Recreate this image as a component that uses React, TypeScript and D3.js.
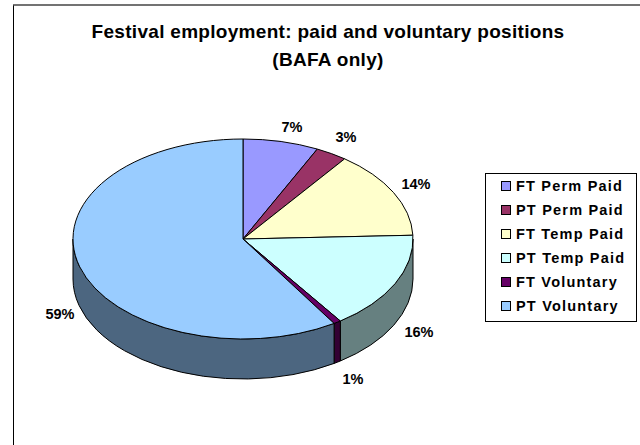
import * as d3 from 'd3';

const titleLines = ['Festival employment: paid and voluntary positions', '(BAFA only)'];
const categories = ['FT Perm Paid', 'PT Perm Paid', 'FT Temp Paid', 'PT Temp Paid', 'FT Voluntary', 'PT Voluntary'];
const values = [7.2, 3.0, 14.2, 15.9, 0.7, 59.0];
const topColors = ['#9999ff', '#993366', '#ffffcc', '#ccffff', '#660066', '#99ccff'];
const sideColors = ['#4c4c80', '#4c1933', '#808066', '#668080', '#330033', '#4c6680'];
const labelPos: [number, number][] = [[292, 132], [346, 142], [416, 189], [419, 337], [353, 384], [60, 319]];

const width = 640;
const height = 445;
const cx = 243;
const cy = 239;
const rx = 170;
const ry = 100;
const depth = 40;

const font = '"Liberation Sans", Arial, sans-serif';

const px = (a: number) => cx + rx * Math.sin(a);
const py = (a: number) => cy - ry * Math.cos(a);

export default function App() {
  const slices = d3.pie<number>().sort(null)(values);
  const arc = d3.arc<d3.PieArcDatum<number>>().innerRadius(0).outerRadius(rx);

  // only the part of the rim facing us (right side round to left side) is visible
  const sidePath = (s: d3.PieArcDatum<number>) => {
    const a0 = Math.max(s.startAngle, Math.PI / 2);
    const a1 = Math.min(s.endAngle, (3 * Math.PI) / 2);
    if (a1 <= a0) return null;
    const large = a1 - a0 > Math.PI ? 1 : 0;
    return `M${px(a0)},${py(a0)}A${rx},${ry} 0 ${large} 1 ${px(a1)},${py(a1)}` +
      `L${px(a1)},${py(a1) + depth}A${rx},${ry} 0 ${large} 0 ${px(a0)},${py(a0) + depth}Z`;
  };

  return (
    <svg width={width} height={height} style={{ position: 'absolute', left: 0, top: 0, background: '#fff' }}>
      <path d={`M13.5,${height}V5`} fill="none" stroke="#000" strokeWidth={1} />
      <path d={`M13,5H${width}`} fill="none" stroke="#444" strokeWidth={1.6} />
      {titleLines.map((t, i) => (
        <text key={t} x={328} y={38 + i * 28} textAnchor="middle" fontFamily={font} fontWeight="bold" fontSize={19} letterSpacing={0.3} fill="#000">{t}</text>
      ))}
      {slices.map((s, i) => {
        const d = sidePath(s);
        return d ? <path key={i} d={d} fill={sideColors[i]} stroke="#000" strokeWidth={1} /> : null;
      })}
      <g transform={`translate(${cx},${cy}) scale(1,${ry / rx})`}>
        {slices.map((s, i) => (
          <path key={i} d={arc(s) as string} fill={topColors[i]} stroke="#000" strokeWidth={1} vectorEffect="non-scaling-stroke" />
        ))}
      </g>
      {values.map((v, i) => (
        <text key={i} x={labelPos[i][0]} y={labelPos[i][1]} textAnchor="middle" fontFamily={font} fontWeight="bold" fontSize={14.5} fill="#000">{Math.round(v)}%</text>
      ))}
      <rect x={485.5} y={173.5} width={151} height={148} fill="#fff" stroke="#000" strokeWidth={1} />
      {categories.map((c, i) => {
        const y = d3.scaleLinear().domain([0, 5]).range([186, 306])(i);
        return (
          <g key={c}>
            <rect x={501.5} y={y - 4.5} width={9} height={9} fill={topColors[i]} stroke="#000" strokeWidth={1} />
            <text x={516} y={y + 5} fontFamily={font} fontWeight="bold" fontSize={14.5} letterSpacing={1.2} fill="#000">{c}</text>
          </g>
        );
      })}
    </svg>
  );
}
